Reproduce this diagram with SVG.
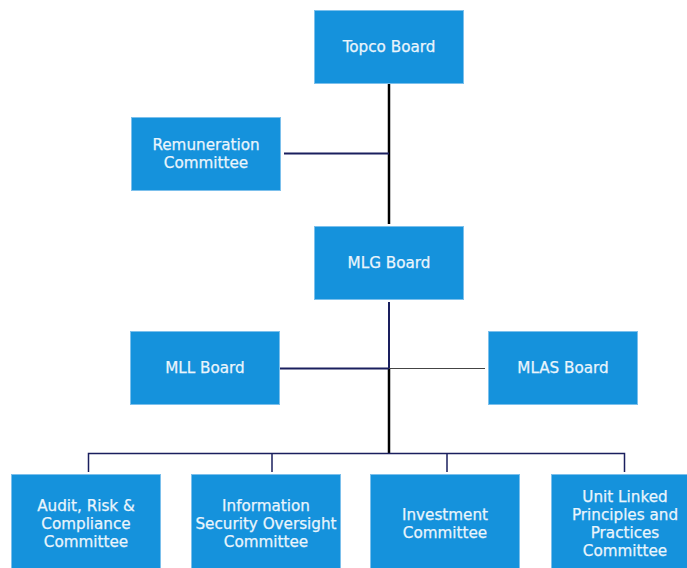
<svg xmlns="http://www.w3.org/2000/svg" width="687" height="568" viewBox="0 0 687 568">
<style>
.box{fill:#1592dc;stroke:#7cc0ec;stroke-width:1}
.t{font-family:"DejaVu Sans",Verdana,sans-serif;font-size:15.2px;fill:#eaf5fc;stroke:#eaf5fc;stroke-width:0.25;text-anchor:middle}
.navy{stroke:#1a1f5e;fill:none}
.blk{stroke:#000;fill:none}
</style>
<rect width="687" height="568" fill="#fff"/>
<g id="connectors">
<line class="blk" x1="389" y1="84" x2="389" y2="224" stroke-width="2.5"/>
<line class="navy" x1="284" y1="153.5" x2="389" y2="153.5" stroke-width="2"/>
<line class="navy" x1="389" y1="302" x2="389" y2="368" stroke-width="2"/>
<line class="blk" x1="389" y1="368" x2="389" y2="453" stroke-width="2.5"/>
<line class="navy" x1="280" y1="368.5" x2="389" y2="368.5" stroke-width="2"/>
<line x1="389" y1="368.5" x2="485" y2="368.5" stroke="#444" stroke-width="1"/>
<polyline class="navy" points="88.5,472 88.5,453.5 624.5,453.5 624.5,472" stroke-width="1.5"/>
<line class="navy" x1="272" y1="453.5" x2="272" y2="472" stroke-width="1.5"/>
<line class="navy" x1="447" y1="453.5" x2="447" y2="472" stroke-width="1.5"/>
</g>
<g id="topco"><rect class="box" x="314.5" y="10.5" width="149" height="73"/><text class="t" x="389" y="52">Topco Board</text></g>
<g id="remuneration"><rect class="box" x="131.5" y="117.5" width="149" height="73"/><text class="t" x="206" y="150">Remuneration</text><text class="t" x="206" y="167.5">Committee</text></g>
<g id="mlg"><rect class="box" x="314.5" y="226.5" width="149" height="73"/><text class="t" x="389" y="268">MLG Board</text></g>
<g id="mll"><rect class="box" x="130.5" y="331.5" width="149" height="73"/><text class="t" x="205" y="373">MLL Board</text></g>
<g id="mlas"><rect class="box" x="488.5" y="331.5" width="149" height="73"/><text class="t" x="563" y="373">MLAS Board</text></g>
<g id="audit"><rect class="box" x="11.5" y="474.5" width="149" height="100"/><text class="t" x="86" y="511">Audit, Risk &amp;</text><text class="t" x="86" y="529">Compliance</text><text class="t" x="86" y="547">Committee</text></g>
<g id="infosec"><rect class="box" x="191.5" y="474.5" width="149" height="100"/><text class="t" x="266" y="511">Information</text><text class="t" x="266" y="529">Security Oversight</text><text class="t" x="266" y="547">Committee</text></g>
<g id="investment"><rect class="box" x="370.5" y="474.5" width="149" height="100"/><text class="t" x="445" y="520">Investment</text><text class="t" x="445" y="538">Committee</text></g>
<g id="unitlinked"><rect class="box" x="551.5" y="474.5" width="149" height="100"/><text class="t" x="625" y="502">Unit Linked</text><text class="t" x="625" y="520">Principles and</text><text class="t" x="625" y="538">Practices</text><text class="t" x="625" y="556">Committee</text></g>
</svg>
